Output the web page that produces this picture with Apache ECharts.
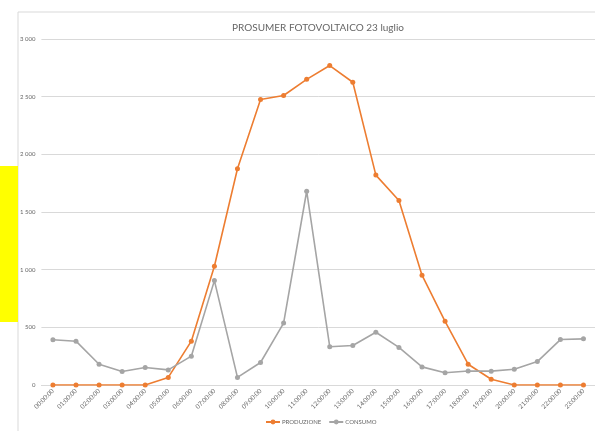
<!DOCTYPE html>
<html>
<head>
<meta charset="utf-8">
<script src="https://cdn.jsdelivr.net/npm/echarts@6/dist/echarts.min.js"></script>
<style>
  html, body { margin: 0; padding: 0; background: #fff; }
  #chart { width: 595px; height: 431px; }
</style>
</head>
<body>
<div id="chart"></div>
<script>
// ore del giorno
const ore = ['00:00:00', '01:00:00', '02:00:00', '03:00:00', '04:00:00', '05:00:00',
  '06:00:00', '07:00:00', '08:00:00', '09:00:00', '10:00:00', '11:00:00',
  '12:00:00', '13:00:00', '14:00:00', '15:00:00', '16:00:00', '17:00:00',
  '18:00:00', '19:00:00', '20:00:00', '21:00:00', '22:00:00', '23:00:00'];

const produzione = [0, 0, 0, 0, 0, 66, 380, 1030, 1875, 2475, 2510, 2650,
  2770, 2625, 1820, 1600, 952, 552, 180, 50, 0, 0, 0, 0];

const consumo = [393, 380, 180, 117, 152, 131, 250, 905, 66, 195, 537, 1680,
  332, 343, 457, 326, 157, 106, 122, 120, 137, 203, 394, 400];

const yTicks = [0, 500, 1000, 1500, 2000, 2500, 3000];

const chart = echarts.init(document.getElementById('chart'));

chart.setOption({
  animation: false,
  textStyle: { fontFamily: 'Lato' },
  title: {
    text: 'PROSUMER FOTOVOLTAICO 23 luglio',
    left: 313,
    textAlign: 'center',
    top: 18,
    textStyle: { fontSize: 10, fontWeight: 'normal', color: '#666666', fontFamily: 'Lato' }
  },
  graphic: [
    { type: 'rect', shape: { x: 18, y: 12, width: 620, height: 450 },
      style: { fill: 'none', stroke: '#d9d9d9', lineWidth: 1 } },
    { type: 'rect', shape: { x: 0, y: 166, width: 18, height: 156 },
      style: { fill: '#ffff00' } }
  ],
  legend: {
    bottom: 1,
    left: 260,
    itemWidth: 14,
    itemHeight: 6,
    itemGap: 7,
    textStyle: { fontSize: 6, color: '#666666', padding: [0, 0, 0, -3] },
    data: ['PRODUZIONE', 'CONSUMO']
  },
  grid: { left: 41.4, right: -3.6, top: 39, bottom: 46 },
  xAxis: {
    type: 'category',
    data: ore,
    boundaryGap: true,
    axisLine: { lineStyle: { color: '#d9d9d9' } },
    axisTick: { show: false },
    axisLabel: { rotate: 45, fontSize: 6.3, color: '#666666', interval: 0, margin: 5 }
  },
  yAxis: {
    type: 'value',
    min: yTicks[0],
    max: yTicks[yTicks.length - 1],
    interval: 500,
    axisLine: { show: false },
    axisTick: { show: false },
    axisLabel: {
      fontSize: 6, color: '#666666', margin: 6,
      formatter: v => String(v).replace(/\B(?=(\d{3})+(?!\d))/g, ' ')
    },
    splitLine: { lineStyle: { color: '#d9d9d9', width: 1 } }
  },
  series: [
    {
      name: 'PRODUZIONE',
      type: 'line',
      data: produzione,
      symbol: 'circle',
      symbolSize: 5,
      itemStyle: { color: '#ed7d31' },
      lineStyle: { color: '#ed7d31', width: 1.6 }
    },
    {
      name: 'CONSUMO',
      type: 'line',
      data: consumo,
      symbol: 'circle',
      symbolSize: 5,
      itemStyle: { color: '#a5a5a5' },
      lineStyle: { color: '#a5a5a5', width: 1.6 }
    }
  ]
});
</script>
</body>
</html>
